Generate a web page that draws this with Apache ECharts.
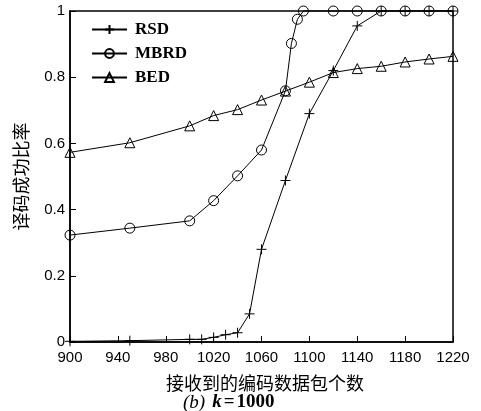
<!DOCTYPE html>
<html>
<head>
<meta charset="utf-8">
<script src="https://cdn.jsdelivr.net/npm/echarts@6/dist/echarts.min.js"></script>
<style>html,body{margin:0;padding:0;background:#fff;}#c{width:481px;height:411px;}</style>
</head>
<body>
<div id="c"></div>
<script>
const xRSD = [900, 950, 1000, 1010, 1020, 1030, 1040, 1050, 1060, 1080, 1100, 1120, 1140, 1160, 1180, 1200, 1220];
const yRSD = [0.002, 0.004, 0.008, 0.008, 0.014, 0.022, 0.028, 0.085, 0.28, 0.488, 0.69, 0.82, 0.955, 1, 1, 1, 1];
const xMBRD = [900, 950, 1000, 1020, 1040, 1060, 1080, 1085, 1090, 1095, 1120, 1140, 1160, 1180, 1200, 1220];
const yMBRD = [0.323, 0.344, 0.366, 0.427, 0.502, 0.58, 0.759, 0.902, 0.975, 1, 1, 1, 1, 1, 1, 1];
const xBED = [900, 950, 1000, 1020, 1040, 1060, 1080, 1100, 1120, 1140, 1160, 1180, 1200, 1220];
const yBED = [0.573, 0.602, 0.653, 0.684, 0.702, 0.731, 0.758, 0.785, 0.814, 0.826, 0.833, 0.846, 0.855, 0.863];
const seriesNames = ['RSD', 'MBRD', 'BED'];
const xTicks = {min: 900, max: 1220, interval: 40};
const yTicks = {min: 0, max: 1, interval: 0.2};

const zip = (xs, ys) => xs.map((x, i) => [x, ys[i]]);
const plusPath = 'path://M0,5L10,5M5,0L5,10';
const mk = (name, data, symbol) => ({
  name: name,
  type: 'line',
  data: data,
  symbol: symbol,
  symbolSize: 10,
  clip: false,
  color: '#000',
  lineStyle: {color: '#000', width: 1},
  itemStyle: {color: 'transparent', borderColor: '#000', borderWidth: 1},
  emphasis: {disabled: true},
  animation: false
});

const chart = echarts.init(document.getElementById('c'), null, {renderer: 'canvas'});
chart.setOption({
  backgroundColor: '#fff',
  animation: false,
  grid: {left: 70, right: 28, top: 11, bottom: 69, show: true, borderColor: '#000', borderWidth: 1.5, backgroundColor: 'transparent'},
  legend: {
    orient: 'vertical', left: 86, top: 16, itemWidth: 35, itemHeight: 11, itemGap: 7,
    data: seriesNames,
    textStyle: {fontFamily: 'Liberation Serif', fontWeight: 'bold', fontSize: 17, color: '#000', padding: [0, 0, 0, 3]}
  },
  xAxis: {
    type: 'value', min: xTicks.min, max: xTicks.max, interval: xTicks.interval,
    name: '接收到的编码数据包个数', nameLocation: 'middle', nameGap: 32,
    nameTextStyle: {fontFamily: 'Noto Sans CJK SC', fontSize: 18, color: '#000', padding: [0, 0, 0, 7]},
    axisLine: {lineStyle: {color: '#000', width: 1.5}},
    axisTick: {inside: true, length: 6, lineStyle: {color: '#000', width: 1}},
    axisLabel: {fontFamily: 'Liberation Sans', fontSize: 15, color: '#000', margin: 8, formatter: v => String(v)},
    splitLine: {show: false}
  },
  yAxis: {
    type: 'value', min: yTicks.min, max: yTicks.max, interval: yTicks.interval,
    name: '译码成功比率', nameLocation: 'middle', nameGap: 40, nameRotate: 90,
    nameTextStyle: {fontFamily: 'Noto Sans CJK SC', fontSize: 18, color: '#000'},
    axisLine: {lineStyle: {color: '#000', width: 1.5}},
    axisTick: {inside: true, length: 6, lineStyle: {color: '#000', width: 1}},
    axisLabel: {fontFamily: 'Liberation Sans', fontSize: 15, color: '#000', margin: 5},
    splitLine: {show: false}
  },
  graphic: [{
    type: 'text', left: 183, top: 393, silent: true,
    style: {
      text: '{a|(b)}{b|k}{c|=}{d|1000}',
      rich: {
        a: {fontFamily: 'Liberation Serif', fontStyle: 'italic', fontSize: 19, fill: '#000', padding: [0, 7, 0, 0]},
        b: {fontFamily: 'Liberation Serif', fontStyle: 'italic', fontWeight: 'bold', fontSize: 19, fill: '#000'},
        c: {fontFamily: 'Liberation Serif', fontWeight: 'bold', fontSize: 19, fill: '#000', padding: [0, 2, 0, 2]},
        d: {fontFamily: 'Liberation Serif', fontWeight: 'bold', fontSize: 19, fill: '#000'}
      },
      font: 'bold 19px "Liberation Serif"'
    }
  }],
  series: [
    mk(seriesNames[0], zip(xRSD, yRSD), plusPath),
    mk(seriesNames[1], zip(xMBRD, yMBRD), 'circle'),
    mk(seriesNames[2], zip(xBED, yBED), 'triangle')
  ]
});
</script>
</body>
</html>
